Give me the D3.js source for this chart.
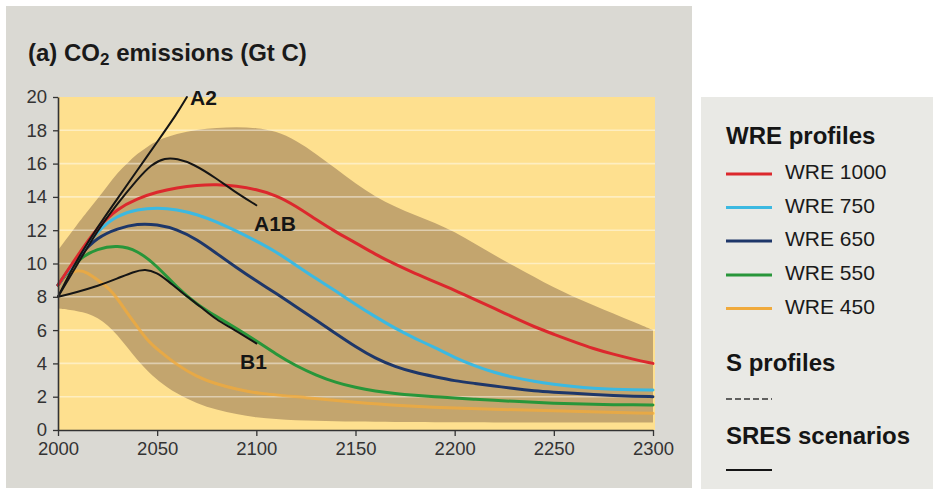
<!DOCTYPE html>
<html>
<head>
<meta charset="utf-8">
<script src="https://cdn.jsdelivr.net/npm/d3@7"></script>
<style>
  html, body { margin: 0; padding: 0; background: #ffffff; }
  svg { display: block; font-family: "Liberation Sans", Arial, Helvetica, sans-serif; }
</style>
</head>
<body>
<svg id="chart" width="933" height="489"></svg>
<script>
// ---------------- data ----------------
const wreYears = [2000,2010,2020,2030,2040,2050,2060,2070,2080,2090,2100,2110,2120,2130,2140,2150,2160,2170,2180,2190,2200,2210,2220,2230,2240,2250,2260,2270,2280,2290,2300];
const wre1000 = [8.7,10.5,12.2,13.3,13.9,14.3,14.55,14.7,14.75,14.65,14.45,14.1,13.45,12.65,11.9,11.25,10.55,9.95,9.4,8.9,8.4,7.85,7.3,6.75,6.2,5.75,5.3,4.88,4.55,4.25,4.0];
const wre750  = [8.7,10.4,12.0,12.9,13.25,13.35,13.25,12.95,12.5,11.95,11.35,10.7,9.9,9.1,8.35,7.55,6.8,6.1,5.5,4.95,4.35,3.85,3.45,3.15,2.92,2.75,2.6,2.5,2.45,2.42,2.4];
const wre650  = [8.7,10.4,11.6,12.1,12.4,12.35,12.05,11.45,10.6,9.75,8.95,8.2,7.4,6.6,5.8,5.0,4.3,3.8,3.45,3.2,2.95,2.8,2.65,2.48,2.35,2.27,2.2,2.13,2.07,2.03,2.0];
const wre550  = [8.7,10.3,10.9,11.1,10.8,9.85,8.55,7.55,6.8,6.1,5.35,4.55,3.85,3.3,2.85,2.55,2.33,2.18,2.08,2.0,1.92,1.85,1.78,1.72,1.66,1.61,1.57,1.54,1.52,1.51,1.5];
const wre450Years = [2000,2005,2010,2015,2020,2025,2030,2035,2040,2045,2050,2060,2070,2080,2090,2100,2125,2150,2175,2200,2250,2300];
const wre450  = [8.7,9.35,9.65,9.45,9.0,8.6,7.9,7.0,6.2,5.4,4.85,3.9,3.2,2.75,2.45,2.2,1.95,1.65,1.45,1.3,1.15,1.0];

const a2Years  = [2000,2005,2010,2020,2030,2040,2050,2060,2065];
const a2       = [8.0,9.2,10.3,12.2,13.9,15.6,17.3,19.0,20.0];
const a1bYears = [2000,2010,2020,2030,2040,2047,2054,2060,2068,2080,2088,2100];
const a1b      = [8.0,10.0,12.0,13.6,15.05,15.95,16.35,16.3,16.0,15.1,14.4,13.5];
const b1Years  = [2000,2010,2020,2030,2038,2044,2050,2055,2063,2072,2080,2088,2100];
const b1       = [8.0,8.3,8.65,9.1,9.5,9.68,9.45,9.0,8.2,7.4,6.6,6.1,5.2];

const bandUpperYears = wreYears;
const bandUpper = [10.8,12.4,13.9,15.45,16.6,17.4,17.8,18.05,18.15,18.2,18.15,17.95,17.4,16.6,15.7,14.8,14.0,13.4,12.9,12.45,11.9,11.2,10.5,9.85,9.2,8.55,8.0,7.5,7.0,6.5,6.0];
const bandLowerYears = [2000,2010,2015,2020,2025,2030,2035,2040,2045,2050,2060,2070,2080,2090,2100,2120,2150,2200,2250,2300];
const bandLower = [7.3,7.15,7.0,6.75,6.3,5.7,4.95,4.2,3.55,3.0,2.15,1.6,1.2,0.95,0.75,0.58,0.5,0.46,0.45,0.45];

const xTicks = [2000,2050,2100,2150,2200,2250,2300];
const yTicks = [0,2,4,6,8,10,12,14,16,18,20];
const gridValues = [2,4,6,8,10,12,14,16,18];

const wreNames  = ["WRE 1000","WRE 750","WRE 650","WRE 550","WRE 450"];
const wreColors = ["#dc282d","#3cb9e1","#1e3769","#28963a","#f0aa3c"];
const sresLabels = ["A2","A1B","B1"];

// ---------------- drawing ----------------
const svg = d3.select("#chart");

// panels
svg.append("rect").attr("x",6).attr("y",6).attr("width",686).attr("height",482).attr("fill","#dad9d3");
svg.append("rect").attr("x",701).attr("y",97).attr("width",232).attr("height",392).attr("fill","#e9e9e5");

const x = d3.scaleLinear().domain([2000,2300]).range([58,653]);
const y = d3.scaleLinear().domain([0,20]).range([430,97]);

// plot background
svg.append("rect").attr("x",x(2000)).attr("y",y(20)).attr("width",x(2300)-x(2000)+2).attr("height",y(0)-y(20)).attr("fill","#fee08f");

// band
const upperFn = d3.scaleLinear().domain(bandUpperYears).range(bandUpper);
const lowerFn = d3.scaleLinear().domain(bandLowerYears).range(bandLower);
const allYears = Array.from(new Set(bandUpperYears.concat(bandLowerYears))).sort((a,b)=>a-b);
const bandData = allYears.map(yr=>({yr, lo: lowerFn(yr), hi: upperFn(yr)}));
const area = d3.area().x(d=>x(d.yr)).y0(d=>y(d.lo)).y1(d=>y(d.hi)).curve(d3.curveBasis);
svg.append("path").datum(bandData).attr("d",area).attr("fill","#c3a56e");

// grid lines
svg.append("g").selectAll("line").data(gridValues).join("line")
  .attr("x1",x(2000)).attr("x2",x(2300)+2)
  .attr("y1",d=>y(d)).attr("y2",d=>y(d))
  .attr("stroke","#ffffff").attr("stroke-opacity",0.45).attr("stroke-width",1.6);

// lines
const line = d3.line().x(d=>x(d[0])).y(d=>y(d[1])).curve(d3.curveBasis);
const wreSeries = [
  {years: wre450Years, vals: wre450, color: wreColors[4], w: 3, op: 0.8},
  {years: wreYears, vals: wre550, color: wreColors[3], w: 3, op: 1},
  {years: wreYears, vals: wre650, color: wreColors[2], w: 3, op: 1},
  {years: wreYears, vals: wre750, color: wreColors[1], w: 3, op: 1},
  {years: wreYears, vals: wre1000, color: wreColors[0], w: 3, op: 1}
];
wreSeries.forEach(s=>{
  svg.append("path").datum(s.years.map((yr,i)=>[yr,s.vals[i]]))
    .attr("d",line).attr("fill","none").attr("stroke",s.color)
    .attr("stroke-width",s.w).attr("stroke-opacity",s.op).attr("stroke-linecap","round");
});
const sresSeries = [
  {years: a2Years, vals: a2},
  {years: a1bYears, vals: a1b},
  {years: b1Years, vals: b1}
];
sresSeries.forEach(s=>{
  svg.append("path").datum(s.years.map((yr,i)=>[yr,s.vals[i]]))
    .attr("d",line).attr("fill","none").attr("stroke","#151515")
    .attr("stroke-width",2).attr("stroke-linecap","round");
});

// series labels
const labelPos = [
  {t: sresLabels[0], x: 190, y: 105},
  {t: sresLabels[1], x: 254, y: 231},
  {t: sresLabels[2], x: 240, y: 369}
];
svg.append("g").selectAll("text").data(labelPos).join("text")
  .attr("x",d=>d.x).attr("y",d=>d.y).text(d=>d.t)
  .attr("font-size",21).attr("font-weight","bold").attr("fill","#151515");

// axes
const yAxis = d3.axisLeft(y).tickValues(yTicks).tickSize(5).tickSizeOuter(0).tickPadding(6);
const xAxis = d3.axisBottom(x).tickValues(xTicks).tickFormat(d3.format("d")).tickSize(6).tickSizeOuter(0).tickPadding(6);
const gy = svg.append("g").attr("transform",`translate(${x(2000)},0)`).call(yAxis);
const gx = svg.append("g").attr("transform",`translate(0,${y(0)})`).call(xAxis);
[gx,gy].forEach(g=>{
  g.select(".domain").attr("stroke","#333").attr("stroke-width",1.6);
  g.selectAll(".tick line").attr("stroke","#333").attr("stroke-width",1.3);
  g.selectAll(".tick text").attr("font-size",18.5).attr("fill","#333")
    .attr("font-family","'Liberation Sans', Arial, sans-serif");
});

// title
const title = svg.append("text").attr("x",28).attr("y",61)
  .attr("font-size",24).attr("font-weight","bold").attr("fill","#1a1a1a");
title.append("tspan").text("(a) CO");
title.append("tspan").text("2").attr("font-size",17).attr("dy",4);
title.append("tspan").text(" emissions (Gt C)").attr("dy",-4);

// legend
const lg = svg.append("g");
lg.append("text").attr("x",726).attr("y",144).text("WRE profiles")
  .attr("font-size",24).attr("font-weight","bold").attr("fill","#151515");
const rowY = [179,212.5,246,280,313.5];
wreNames.forEach((n,i)=>{
  lg.append("line").attr("x1",726).attr("x2",772).attr("y1",rowY[i]-5).attr("y2",rowY[i]-5)
    .attr("stroke",wreColors[i]).attr("stroke-width",3);
  lg.append("text").attr("x",785).attr("y",rowY[i]).text(n)
    .attr("font-size",21).attr("fill","#1a1a1a");
});
lg.append("text").attr("x",726).attr("y",371).text("S profiles")
  .attr("font-size",24).attr("font-weight","bold").attr("fill","#151515");
lg.append("line").attr("x1",726).attr("x2",772).attr("y1",399).attr("y2",399)
  .attr("stroke","#333").attr("stroke-width",1.5).attr("stroke-dasharray","6,3");
lg.append("text").attr("x",726).attr("y",444).text("SRES scenarios")
  .attr("font-size",24).attr("font-weight","bold").attr("fill","#151515");
lg.append("line").attr("x1",726).attr("x2",772).attr("y1",470).attr("y2",470)
  .attr("stroke","#151515").attr("stroke-width",2);
</script>
</body>
</html>
